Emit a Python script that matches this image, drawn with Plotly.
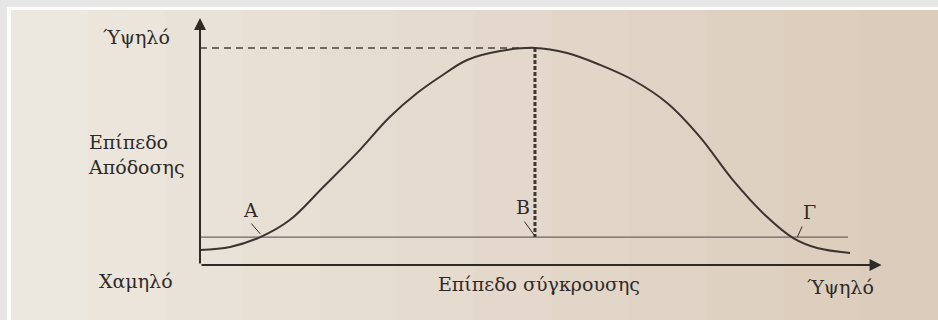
import plotly.graph_objects as go

# curve: performance level vs conflict level (0-100 scales)
conflict = [0, 4.4, 8.8, 13.1, 18.0, 22.9, 27.7, 31.7, 35.0, 39.0, 43.8, 48.9,
            53.6, 58.4, 63.2, 68.2, 73.0, 77.8, 82.8, 86.6, 90.1, 94.9]
performance = [6.1, 7.3, 11.3, 18.2, 31.6, 45.3, 59.9, 69.6, 76.1, 83.0, 86.6, 87.9,
               85.8, 81.0, 74.9, 65.6, 51.8, 34.4, 19.4, 10.9, 6.9, 4.9]

threshold = 11.3          # horizontal reference line (A, B, Γ)
threshold_end = 94.6
peak_x, peak_y = 48.9, 87.9

ink = "#2f2a27"
font = dict(family="DejaVu Serif, Liberation Serif, serif", size=19, color=ink)


def px(x, y):
    # pixel position -> paper fraction (plot area is x 200..885, y 18..265)
    return (x - 200) / 685, (265 - y) / 247


fig = go.Figure()

# threshold line
fig.add_trace(go.Scatter(x=[0, threshold_end], y=[threshold, threshold], mode="lines",
                         line=dict(color="#6e655e", width=1.3), hoverinfo="skip"))
# dashed line to the peak
fig.add_trace(go.Scatter(x=[0, peak_x], y=[peak_y, peak_y], mode="lines",
                         line=dict(color="#4a423c", width=1.5, dash="7px,5px"), hoverinfo="skip"))
# dotted drop from peak (B)
fig.add_trace(go.Scatter(x=[peak_x, peak_x], y=[peak_y, threshold], mode="lines",
                         line=dict(color="#3f3833", width=3, dash="4px,2px"), hoverinfo="skip"))
# the curve
fig.add_trace(go.Scatter(x=conflict, y=performance, mode="lines",
                         line=dict(color="#3b3430", width=2, shape="spline", smoothing=1.0),
                         hoverinfo="skip"))

# background: grey frame, white strip, paper with slight left->right tint
wx0, wy1 = px(7, 7)
wx1, wy0 = px(960, 340)
shapes = [
    dict(type="rect", xref="paper", yref="paper", x0=wx0, x1=wx1, y0=wy0, y1=wy1,
         fillcolor="#ffffff", line_width=0, layer="below"),
]
c0 = (236, 231, 223)
c1 = (220, 204, 187)
n = 12
_, py1 = px(0, 10)
for i in range(n):
    t = i / (n - 1)
    col = "rgb(%d,%d,%d)" % tuple(round(a + (b - a) * t) for a, b in zip(c0, c1))
    x0, _ = px(11 + i * 927 / n, 0)
    x1, _ = px(11 + (i + 1) * 927 / n + (20 if i == n - 1 else 1), 0)
    shapes.append(dict(type="rect", xref="paper", yref="paper", x0=x0, x1=x1,
                       y0=wy0, y1=py1, fillcolor=col, line_width=0, layer="below"))


def label(text, x, y, xanchor="center", **kw):
    fx, fy = px(x, y)
    return dict(x=fx, y=fy, xref="paper", yref="paper", text=text, showarrow=False,
                xanchor=xanchor, yanchor="middle", **kw)


def leader(x0, y0, x1, y1, **kw):
    return dict(x=x1, y=y1, ax=x0, ay=y0, xref="x", yref="y", axref="x", ayref="y",
                text="", showarrow=True, arrowcolor=ink, **kw)


annotations = [
    # axes with arrowheads
    leader(0, 0, 0, 100, arrowhead=2, arrowsize=1.2, arrowwidth=2),
    leader(0, 0, 99.5, 0, arrowhead=2, arrowsize=1.2, arrowwidth=2),
    # leader lines to A, B, Γ
    leader(7.3, 17.4, 8.8, 12.6, arrowhead=0, arrowwidth=1),
    leader(47.2, 18.2, 48.9, 11.7, arrowhead=0, arrowwidth=1),
    leader(88.0, 16.2, 87.2, 11.3, arrowhead=0, arrowwidth=1),
    # text
    label("Ύψηλό", 136, 37),
    label("Επίπεδο<br>Απόδοσης", 86, 154, xanchor="left", align="left"),
    label("Χαμηλό", 136, 281),
    label("Επίπεδο σύγκρουσης", 539, 284),
    label("Ύψηλό", 840, 287),
    label("Α", 250, 210),
    label("Β", 523, 207),
    label("Γ", 809, 212),
]

fig.update_layout(
    width=938, height=320,
    margin=dict(l=200, r=53, t=18, b=55),
    paper_bgcolor="#e6e6e6",
    plot_bgcolor="rgba(0,0,0,0)",
    showlegend=False,
    font=font,
    xaxis=dict(range=[0, 100], visible=False, fixedrange=True),
    yaxis=dict(range=[0, 100], visible=False, fixedrange=True),
    shapes=shapes,
    annotations=annotations,
)

fig.write_html("out.html", config={"displayModeBar": False},
               post_script="document.body.style.margin='0';")
